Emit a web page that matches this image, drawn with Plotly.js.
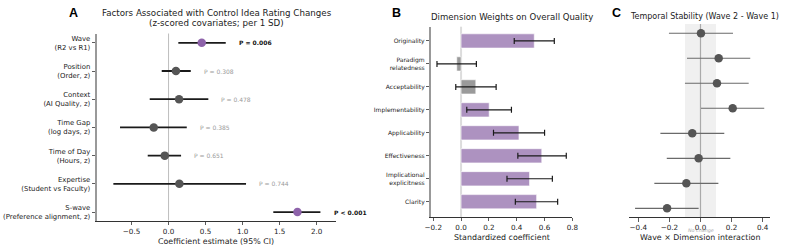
<!DOCTYPE html>
<html>
<head>
<meta charset="utf-8">
<script src="https://cdn.plot.ly/plotly-3.0.1.min.js"></script>
<style>html,body{margin:0;padding:0;background:#fff;}#chart{width:793px;height:246px;}</style>
</head>
<body>
<div id="chart"></div>
<script>
// ---------- Panel A data ----------
const aFactors = ['Wave','Position','Context','Time Gap','Time of Day','Expertise','S-wave'];
const aLabels = ['Wave<br>(R2 vs R1)','Position<br>(Order, z)','Context<br>(AI Quality, z)','Time Gap<br>(log days, z)','Time of Day<br>(Hours, z)','Expertise<br>(Student vs Faculty)','S-wave<br>(Preference alignment, z)'];
const aEst = [0.448, 0.100, 0.142, -0.200, -0.051, 0.146, 1.740];
const aLo  = [0.132, -0.092, -0.254, -0.655, -0.281, -0.745, 1.414];
const aHi  = [0.772, 0.300, 0.537, 0.246, 0.169, 1.046, 2.050];
const aP   = ['P = 0.006','P = 0.308','P = 0.478','P = 0.385','P = 0.651','P = 0.744','P < 0.001'];
const aSig = [true, false, false, false, false, false, true];

// ---------- Panel B data ----------
const bDims = ['Originality','Paradigm relatedness','Acceptability','Implementability','Applicability','Effectiveness','Implicational explicitness','Clarity'];
const bLabels = ['Originality','Paradigm<br>relatedness','Acceptability','Implementability','Applicability','Effectiveness','Implicational<br>explicitness','Clarity'];
const bCoef = [0.526, -0.031, 0.106, 0.202, 0.416, 0.580, 0.492, 0.543];
const bLo   = [0.382, -0.173, -0.038, 0.041, 0.233, 0.408, 0.330, 0.390];
const bHi   = [0.670, 0.110, 0.252, 0.362, 0.600, 0.756, 0.656, 0.694];

// ---------- Panel C data ----------
const cEst = [0.003, 0.117, 0.106, 0.207, -0.053, -0.012, -0.091, -0.215];
const cLo  = [-0.203, -0.087, -0.100, 0.003, -0.258, -0.217, -0.297, -0.421];
const cHi  = [0.209, 0.320, 0.310, 0.410, 0.153, 0.192, 0.115, -0.012];

const PURPLE = '#8e63aa';
const BARPURPLE = '#ad92c0';
const GRAYPT = '#555555';
const FONT = 'DejaVu Sans, sans-serif';
const W = 793, H = 246;
const px = v => v / W;
const py = v => 1 - v / H;

const traceA = {
  type: 'scatter', mode: 'markers', xaxis: 'x', yaxis: 'y',
  x: aEst, y: aFactors,
  marker: {size: 8.5, color: aSig.map(s => s ? PURPLE : GRAYPT)},
  error_x: {type: 'data', symmetric: false,
    array: aHi.map((h, i) => h - aEst[i]),
    arrayminus: aLo.map((l, i) => aEst[i] - l),
    color: '#1a1a1a', thickness: 1.8, width: 0},
  hoverinfo: 'skip'
};

const bSig = bLo.map(l => l > 0);
const traceB = {
  type: 'bar', orientation: 'h', xaxis: 'x2', yaxis: 'y2',
  x: bCoef, y: bDims,
  marker: {color: bSig.map(s => s ? BARPURPLE : '#9a9a9a'), line: {color: 'rgba(255,255,255,0.6)', width: 1}},
  error_x: {type: 'data', symmetric: false,
    array: bHi.map((h, i) => h - bCoef[i]),
    arrayminus: bLo.map((l, i) => bCoef[i] - l),
    color: '#1a1a1a', thickness: 1.2, width: 3},
  width: 0.62,
  hoverinfo: 'skip'
};

const traceC = {
  type: 'scatter', mode: 'markers', xaxis: 'x3', yaxis: 'y3',
  x: cEst, y: bDims,
  marker: {size: 8.5, color: GRAYPT},
  error_x: {type: 'data', symmetric: false,
    array: cHi.map((h, i) => h - cEst[i]),
    arrayminus: cLo.map((l, i) => cEst[i] - l),
    color: '#6a6a6a', thickness: 1.2, width: 0},
  hoverinfo: 'skip'
};

const tickCommon = {showgrid: false, zeroline: false, ticks: 'outside', ticklen: 3.5, tickwidth: 0.8, tickcolor: '#333', showline: true};

const annotations = [];
// panel letters
[['A', 73.3, 12.8], ['B', 396.7, 13.2], ['C', 616.7, 13.0]].forEach(([t, x, y]) => {
  annotations.push({text: '<b>' + t + '</b>', xref: 'paper', yref: 'paper', x: px(x), y: py(y), xanchor: 'center', yanchor: 'middle', showarrow: false, font: {family: 'Liberation Sans, Arial, sans-serif', size: 12.5, color: '#000'}});
});
// titles
annotations.push({text: 'Factors Associated with Control Idea Rating Changes', xref: 'paper', yref: 'paper', x: px(216.5), y: py(13.3), xanchor: 'center', yanchor: 'middle', showarrow: false, font: {family: FONT, size: 8.7, color: '#222'}});
annotations.push({text: '(z-scored covariates; per 1 SD)', xref: 'paper', yref: 'paper', x: px(216.5), y: py(23.3), xanchor: 'center', yanchor: 'middle', showarrow: false, font: {family: FONT, size: 8.7, color: '#222'}});
annotations.push({text: 'Dimension Weights on Overall Quality', xref: 'paper', yref: 'paper', x: px(429.5), y: py(17.3), xanchor: 'left', yanchor: 'middle', showarrow: false, font: {family: FONT, size: 8.55, color: '#222'}, xshift: -1});
annotations.push({text: 'Temporal Stability (Wave 2 - Wave 1)', xref: 'paper', yref: 'paper', x: px(628.5), y: py(16.7), xanchor: 'left', yanchor: 'middle', showarrow: false, font: {family: FONT, size: 8.0, color: '#222'}, xshift: -1});
// axis titles
annotations.push({text: 'Coefficient estimate (95% CI)', xref: 'paper', yref: 'paper', x: px(216.2), y: py(241.2), xanchor: 'center', yanchor: 'middle', showarrow: false, font: {family: FONT, size: 7.9, color: '#222'}});
annotations.push({text: 'Standardized coefficient', xref: 'paper', yref: 'paper', x: px(501.7), y: py(237.3), xanchor: 'center', yanchor: 'middle', showarrow: false, font: {family: FONT, size: 7.9, color: '#222'}});
annotations.push({text: 'Wave × Dimension interaction', xref: 'paper', yref: 'paper', x: px(699.7), y: py(237.3), xanchor: 'center', yanchor: 'middle', showarrow: false, font: {family: FONT, size: 7.9, color: '#222'}});
annotations.push({text: '<i>No change</i>', xref: 'x3', yref: 'paper', x: 0, y: py(230.7), xanchor: 'center', yanchor: 'middle', showarrow: false, font: {family: FONT, size: 4.8, color: '#aaa'}});
// P-values
aP.forEach((t, i) => {
  annotations.push({text: aSig[i] ? '<b>' + t + '</b>' : t, xref: 'x', yref: 'y', x: aHi[i] + 0.15, y: aFactors[i], xanchor: 'left', yanchor: 'middle', showarrow: false, font: {family: FONT, size: 6, color: aSig[i] ? '#111' : '#9a9a9a'}});
});

const shapes = [
  {type: 'line', xref: 'x', yref: 'y domain', x0: 0, x1: 0, y0: 0, y1: 1, line: {color: '#bdbdbd', width: 1}, layer: 'below'},
  {type: 'line', xref: 'x2', yref: 'y2 domain', x0: 0, x1: 0, y0: 0, y1: 1, line: {color: '#dcdcdc', width: 2}, layer: 'below'},
  {type: 'rect', xref: 'x3', yref: 'y3 domain', x0: -0.1, x1: 0.1, y0: 0, y1: 1, fillcolor: '#f0f0f0', line: {width: 0}, layer: 'below'},
  {type: 'line', xref: 'x3', yref: 'y3 domain', x0: 0, x1: 0, y0: 0, y1: 1, line: {color: '#aaaaaa', width: 1.2}, layer: 'below'}
];

const layout = {
  width: W, height: H,
  margin: {l: 0, r: 0, t: 0, b: 0, pad: 0},
  paper_bgcolor: '#fff', plot_bgcolor: 'rgba(0,0,0,0)',
  showlegend: false,
  font: {family: FONT, color: '#222'},
  xaxis: Object.assign({}, tickCommon, {domain: [px(96.8), px(335.6)], range: [-0.9685, 2.255], tickvals: [-0.5, 0, 0.5, 1, 1.5, 2], tickformat: '.1f', linecolor: '#333', linewidth: 1, tickfont: {size: 7.2, color: '#222'}, anchor: 'y'}),
  yaxis: Object.assign({}, tickCommon, {domain: [py(220.5), py(33.5)], type: 'category', range: [6.3, -0.33], tickvals: aFactors, ticktext: aLabels, linecolor: '#999', linewidth: 1.6, tickfont: {size: 6.9, color: '#222'}, anchor: 'x'}),
  xaxis2: Object.assign({}, tickCommon, {domain: [px(431), px(572.4)], range: [-0.216, 0.80], tickvals: [-0.2, 0, 0.2, 0.4, 0.6, 0.8], tickformat: '.1f', linecolor: '#333', linewidth: 1, tickfont: {size: 7.2, color: '#222'}, anchor: 'y2'}),
  yaxis2: Object.assign({}, tickCommon, {domain: [py(216.9), py(26.7)], type: 'category', range: [7.66, -0.62], tickvals: bDims, ticktext: bLabels, linecolor: '#999', linewidth: 1.6, tickfont: {size: 6.0, color: '#222'}, anchor: 'x2'}),
  xaxis3: Object.assign({}, tickCommon, {domain: [px(629.3), px(770.3)], range: [-0.458, 0.449], tickvals: [-0.4, -0.2, 0, 0.2, 0.4], tickformat: '.1f', linecolor: '#333', linewidth: 1, tickfont: {size: 7.2, color: '#222'}, anchor: 'y3'}),
  yaxis3: {domain: [py(217.3), py(24)], type: 'category', range: [7.36, -0.37], showticklabels: false, ticks: '', showline: false, showgrid: false, zeroline: false, anchor: 'x3'},
  bargap: 0.35,
  annotations: annotations,
  shapes: shapes
};

Plotly.newPlot('chart', [traceA, traceB, traceC], layout, {displayModeBar: false, staticPlot: true});
</script>
</body>
</html>
